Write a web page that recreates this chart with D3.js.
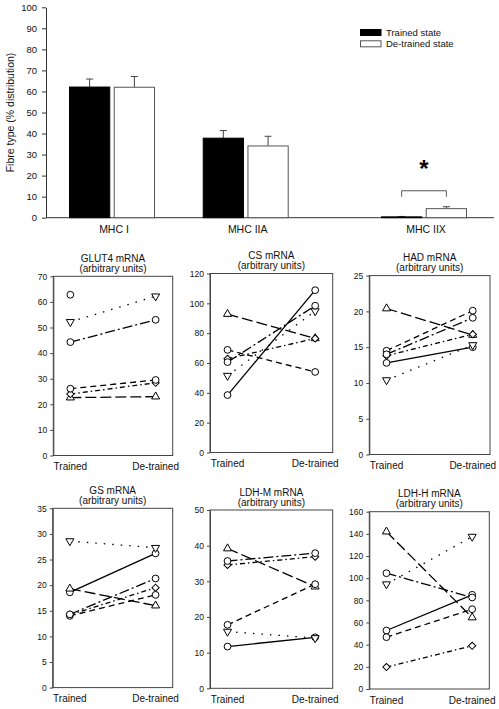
<!DOCTYPE html>
<html>
<head>
<meta charset="utf-8">
<script src="https://cdn.jsdelivr.net/npm/d3@7"></script>
<style>
  html, body { margin: 0; padding: 0; background: #fff; }
  svg { display: block; font-family: Arial, "Liberation Sans", sans-serif; }
</style>
</head>
<body>
<svg id="chart" width="499" height="709"></svg>
<script>
// ---------- Top bar chart data ----------
const fibreTypes = ["MHC I", "MHC IIA", "MHC IIX"];
const states = ["Trained state", "De-trained state"];
const trainedMean = [62.1, 37.8, 0.4];
const trainedErr = [3.8, 3.6, 0.2];
const detrainedMean = [62.0, 34.1, 4.3];
const detrainedErr = [5.1, 4.6, 0.9];
const fibreTicks = [0, 10, 20, 30, 40, 50, 60, 70, 80, 90, 100];

// ---------- Small panels data ----------
const timepoints = ["Trained", "De-trained"];
const subjects = ["S1", "S2", "S3", "S4", "S5", "S6"];
const glut4Trained   = [62.8, 52.2, 22.6, 24.0, 26.1, 44.3];
const glut4Detrained = [null, 62.2, 23.0, 28.4, 29.5, 53.0];
const csTrained      = [38.5, 51.5, 92.8, 62.8, 68.8, 60.6];
const csDetrained    = [108.8, 94.8, 76.5, 76.5, 54.0, 98.4];
const hadTrained     = [12.8, 10.4, 20.4, 13.8, 14.5, 14.0];
const hadDetrained   = [15.0, 15.3, 16.7, 16.8, 20.1, 19.1];
const gsTrained      = [18.6, 28.6, 19.3, 14.2, 14.0, 14.3];
const gsDetrained    = [26.2, 27.3, 16.0, 19.5, 18.1, 21.3];
const ldhmTrained    = [11.7, 15.9, 39.2, 34.6, 17.8, 35.7];
const ldhmDetrained  = [14.3, 14.1, 28.5, 36.9, 29.2, 37.9];
const ldhhTrained    = [52.8, 94.6, 142.0, 19.8, 46.8, 104.5];
const ldhhDetrained  = [85.0, 137.5, 64.5, 39.0, 72.0, 82.6];

const panelTitles = ["GLUT4 mRNA", "CS mRNA", "HAD mRNA", "GS mRNA", "LDH-M mRNA", "LDH-H mRNA"];
const panelMax = [70, 120, 25, 35, 50, 160];
const panelStep = [10, 20, 5, 5, 10, 20];

// ---------- styles (not data) ----------
const axisColor = "#333";
const subjStyle = {
  S1: { dash: null,        shape: "circle" },
  S2: { dash: "1.5,7",     shape: "triDown" },
  S3: { dash: "11,4",      shape: "triUp" },
  S4: { dash: "5,3,1.5,3", shape: "diamond" },
  S5: { dash: "6,4",       shape: "circle" },
  S6: { dash: "10,3,2,3",  shape: "circle" }
};

const svg = d3.select("#chart");

// ================= TOP BAR CHART =================
(function () {
  const y = d3.scaleLinear().domain([0, 100]).range([217.7, 7.3]);
  const left = 46, right = 494;
  const slot = d3.scaleLinear().domain([0, 7]).range([112, 424]);
  const slots = [0, 3, 7];
  const inner = d3.scaleBand().domain(states).range([-42.5, 42.5]).paddingInner(0.1);

  const g = svg.append("g");

  const ax = g.append("g").attr("transform", `translate(${left},0)`)
    .call(d3.axisLeft(y).tickValues(fibreTicks).tickSize(4).tickPadding(5).tickSizeOuter(0));
  ax.select(".domain").attr("stroke", axisColor);
  ax.selectAll(".tick line").attr("stroke", axisColor);
  ax.selectAll(".tick text").attr("font-size", 9.5).attr("fill", "#111")
    .attr("font-family", "Arial, 'Liberation Sans', sans-serif");

  g.append("line").attr("x1", left).attr("x2", right)
    .attr("y1", y(0)).attr("y2", y(0)).attr("stroke", axisColor);

  g.append("text")
    .attr("transform", `translate(14,${(y(0) + y(100)) / 2}) rotate(-90)`)
    .attr("text-anchor", "middle").attr("font-size", 10.5).attr("fill", "#111")
    .text("Fibre type (% distribution)");

  const rows = fibreTypes.map((f, i) => ({
    f, c: slot(slots[i]),
    vals: [
      { s: states[0], m: trainedMean[i], e: trainedErr[i] },
      { s: states[1], m: detrainedMean[i], e: detrainedErr[i] }
    ]
  }));

  rows.forEach(r => {
    r.vals.forEach(v => {
      const x0 = r.c + inner(v.s);
      const w = inner.bandwidth();
      const cx = x0 + w / 2;
      g.append("line").attr("x1", cx).attr("x2", cx)
        .attr("y1", y(v.m)).attr("y2", y(v.m + v.e)).attr("stroke", "#444");
      g.append("line").attr("x1", cx - 3.5).attr("x2", cx + 3.5)
        .attr("y1", y(v.m + v.e)).attr("y2", y(v.m + v.e)).attr("stroke", "#444");
      g.append("rect")
        .attr("x", x0).attr("y", y(v.m))
        .attr("width", w).attr("height", y(0) - y(v.m))
        .attr("fill", v.s === states[0] ? "#000" : "#fff")
        .attr("stroke", v.s === states[0] ? "#000" : "#555")
        .attr("stroke-width", 1);
    });
    g.append("text").attr("x", r.c + 2).attr("y", 232.5)
      .attr("text-anchor", "middle").attr("font-size", 10.5).attr("fill", "#111").text(r.f);
  });

  const c3 = slot(slots[2]);
  const bx1 = c3 + inner(states[0]) + inner.bandwidth() / 2;
  const bx2 = c3 + inner(states[1]) + inner.bandwidth() / 2;
  g.append("path")
    .attr("d", `M${bx1},${y(10)} V${y(12.8)} H${bx2} V${y(10)}`)
    .attr("fill", "none").attr("stroke", "#555");
  g.append("text").attr("x", (bx1 + bx2) / 2).attr("y", 177)
    .attr("text-anchor", "middle").attr("font-size", 24).attr("font-weight", "bold")
    .attr("fill", "#000").text("*");

  const lg = g.append("g");
  states.forEach((s, i) => {
    lg.append("rect").attr("x", 360.5).attr("y", 29.5 + i * 11.3)
      .attr("width", 20.5).attr("height", 6)
      .attr("fill", i === 0 ? "#000" : "#fff")
      .attr("stroke", i === 0 ? "#000" : "#555");
    lg.append("text").attr("x", 386).attr("y", 36 + i * 11.3)
      .attr("font-size", 9.5).attr("fill", "#111").text(s);
  });
})();

// ================= SMALL PANELS =================
const panelData = [
  [glut4Trained, glut4Detrained],
  [csTrained, csDetrained],
  [hadTrained, hadDetrained],
  [gsTrained, gsDetrained],
  [ldhmTrained, ldhmDetrained],
  [ldhhTrained, ldhhDetrained]
];
const boxes = [
  [53.3, 172.7, 276.3, 455.5],
  [210.0, 332.7, 273.5, 452.5],
  [369.3, 490.0, 275.6, 454.5],
  [52.7, 172.7, 508.3, 687.6],
  [210.0, 332.7, 510.0, 688.3],
  [369.3, 489.3, 511.7, 689.0]
];

function drawMarker(sel, shape) {
  if (shape === "circle") {
    sel.append("circle").attr("r", 3.4);
  } else if (shape === "triUp") {
    sel.append("path").attr("d", d3.symbol(d3.symbolTriangle, 28)());
  } else if (shape === "triDown") {
    sel.append("path").attr("d", d3.symbol(d3.symbolTriangle, 28)()).attr("transform", "rotate(180)");
  } else if (shape === "diamond") {
    sel.append("path").attr("d", d3.symbol(d3.symbolSquare, 26)()).attr("transform", "rotate(45)");
  }
}

panelData.forEach((pd, pi) => {
  const [L, R, T, B] = boxes[pi];
  const y = d3.scaleLinear().domain([0, panelMax[pi]]).range([B, T]);
  const x = d3.scalePoint().domain(timepoints).range([L, R]).padding(0.2);
  const g = svg.append("g");

  g.append("rect").attr("x", L).attr("y", T).attr("width", R - L).attr("height", B - T)
    .attr("fill", "none").attr("stroke", "#444").attr("stroke-width", 1);

  const ax = g.append("g").attr("transform", `translate(${L},0)`)
    .call(d3.axisLeft(y).tickValues(d3.range(0, panelMax[pi] + 0.001, panelStep[pi]))
      .tickSize(3).tickPadding(3).tickSizeOuter(0));
  ax.select(".domain").attr("stroke", "#444");
  ax.selectAll(".tick line").attr("stroke", "#444");
  ax.selectAll(".tick text").attr("font-size", 8.5).attr("fill", "#111")
    .attr("font-family", "Arial, 'Liberation Sans', sans-serif");

  const cx = (L + R) / 2;
  g.append("text").attr("x", cx).attr("y", T - 14.5).attr("text-anchor", "middle")
    .attr("font-size", 10).attr("fill", "#111").text(panelTitles[pi]);
  g.append("text").attr("x", cx).attr("y", T - 4.5).attr("text-anchor", "middle")
    .attr("font-size", 10).attr("fill", "#111").text("(arbitrary units)");

  timepoints.forEach(t => {
    g.append("text").attr("x", x(t)).attr("y", B + 14.5).attr("text-anchor", "middle")
      .attr("font-size", 10).attr("fill", "#111").text(t);
  });

  const series = subjects.map((s, i) => ({
    s, pts: [
      { t: timepoints[0], v: pd[0][i] },
      { t: timepoints[1], v: pd[1][i] }
    ].filter(p => p.v !== null)
  }));

  const line = d3.line().x(p => x(p.t)).y(p => y(p.v));
  series.forEach(se => {
    if (se.pts.length > 1) {
      g.append("path").attr("d", line(se.pts)).attr("fill", "none")
        .attr("stroke", "#000").attr("stroke-width", 1.3)
        .attr("stroke-dasharray", subjStyle[se.s].dash);
    }
  });
  series.forEach(se => {
    se.pts.forEach(p => {
      const m = g.append("g").attr("transform", `translate(${x(p.t)},${y(p.v)})`)
        .attr("fill", "#fff").attr("stroke", "#000").attr("stroke-width", 1);
      drawMarker(m, subjStyle[se.s].shape);
    });
  });
});
</script>
</body>
</html>
